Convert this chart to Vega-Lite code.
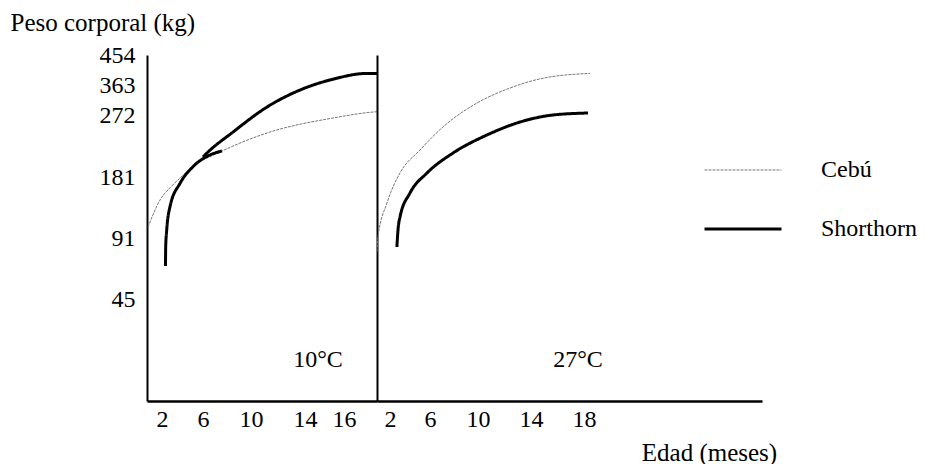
{
  "$schema": "https://vega.github.io/schema/vega-lite/v6.json",
  "padding": {"left": 10, "top": 10, "right": 0, "bottom": 0},
  "background": "white",
  "config": {
    "font": "Liberation Serif",
    "view": {"stroke": null},
    "axis": {"domainColor": "black", "domainWidth": 2, "ticks": false, "grid": false, "labelOverlap": false, "labelFlush": false, "labelFont": "Liberation Serif", "labelFontSize": 24, "labelColor": "black", "titleFont": "Liberation Serif", "titleFontSize": 25, "titleFontWeight": "normal", "titleColor": "black"},
    "legend": {"orient": "none", "legendX": 556, "legendY": 76, "symbolType": "stroke", "symbolSize": 5929, "labelFont": "Liberation Serif", "labelFontSize": 24, "labelColor": "black", "labelOffset": 38, "padding": 0, "rowPadding": 7, "title": null},
    "text": {"font": "Liberation Serif"}
  },
  "bounds": "flush",
  "spacing": 0,
  "resolve": {"scale": {"color": "shared", "strokeWidth": "shared", "strokeDash": "shared", "x": "independent", "y": "independent"}, "legend": {"color": "shared", "strokeWidth": "shared", "strokeDash": "shared"}},
  "datasets": {
    "curves": [
      {"panel": "10", "raza": "Cebú", "seg": "c10", "edad": 0.6, "peso": 107},
      {"panel": "10", "raza": "Cebú", "seg": "c10", "edad": 1.8, "peso": 147},
      {"panel": "10", "raza": "Cebú", "seg": "c10", "edad": 2.78, "peso": 165},
      {"panel": "10", "raza": "Cebú", "seg": "c10", "edad": 3.76, "peso": 179.5},
      {"panel": "10", "raza": "Cebú", "seg": "c10", "edad": 5.22, "peso": 198.6},
      {"panel": "10", "raza": "Cebú", "seg": "c10", "edad": 7.42, "peso": 217.7},
      {"panel": "10", "raza": "Cebú", "seg": "c10", "edad": 11.19, "peso": 245.6},
      {"panel": "10", "raza": "Cebú", "seg": "c10", "edad": 15.44, "peso": 267.6},
      {"panel": "10", "raza": "Cebú", "seg": "c10", "edad": 17.49, "peso": 281},
      {"panel": "10", "raza": "Cebú", "seg": "c10", "edad": 17.7, "peso": 282},
      {"panel": "10", "raza": "Shorthorn", "seg": "sA", "edad": 2.34, "peso": 69.9},
      {"panel": "10", "raza": "Shorthorn", "seg": "sA", "edad": 2.36, "peso": 84.4},
      {"panel": "10", "raza": "Shorthorn", "seg": "sA", "edad": 2.46, "peso": 102.8},
      {"panel": "10", "raza": "Shorthorn", "seg": "sA", "edad": 2.78, "peso": 137.2},
      {"panel": "10", "raza": "Shorthorn", "seg": "sA", "edad": 3.76, "peso": 171.7},
      {"panel": "10", "raza": "Shorthorn", "seg": "sA", "edad": 5.02, "peso": 196.1},
      {"panel": "10", "raza": "Shorthorn", "seg": "sA", "edad": 6.58, "peso": 213.3},
      {"panel": "10", "raza": "Shorthorn", "seg": "sA", "edad": 7.58, "peso": 219.2},
      {"panel": "10", "raza": "Shorthorn", "seg": "sB", "edad": 6.0, "peso": 210.4},
      {"panel": "10", "raza": "Shorthorn", "seg": "sB", "edad": 6.33, "peso": 216.2},
      {"panel": "10", "raza": "Shorthorn", "seg": "sB", "edad": 8.5, "peso": 247},
      {"panel": "10", "raza": "Shorthorn", "seg": "sB", "edad": 11.19, "peso": 296.3},
      {"panel": "10", "raza": "Shorthorn", "seg": "sB", "edad": 13.63, "peso": 347.8},
      {"panel": "10", "raza": "Shorthorn", "seg": "sB", "edad": 15.44, "peso": 380.6},
      {"panel": "10", "raza": "Shorthorn", "seg": "sB", "edad": 17.18, "peso": 398.2},
      {"panel": "10", "raza": "Shorthorn", "seg": "sB", "edad": 17.7, "peso": 398.2},
      {"panel": "27", "raza": "Cebú", "seg": "c27", "edad": 0.0, "peso": 80.7},
      {"panel": "27", "raza": "Cebú", "seg": "c27", "edad": 0.15, "peso": 92.5},
      {"panel": "27", "raza": "Cebú", "seg": "c27", "edad": 1.54, "peso": 142.7},
      {"panel": "27", "raza": "Cebú", "seg": "c27", "edad": 3.0, "peso": 186.9},
      {"panel": "27", "raza": "Cebú", "seg": "c27", "edad": 5.0, "peso": 220.6},
      {"panel": "27", "raza": "Cebú", "seg": "c27", "edad": 7.08, "peso": 254.4},
      {"panel": "27", "raza": "Cebú", "seg": "c27", "edad": 9.92, "peso": 308.4},
      {"panel": "27", "raza": "Cebú", "seg": "c27", "edad": 12.42, "peso": 353.9},
      {"panel": "27", "raza": "Cebú", "seg": "c27", "edad": 14.9, "peso": 383.5},
      {"panel": "27", "raza": "Cebú", "seg": "c27", "edad": 18.45, "peso": 398.2},
      {"panel": "27", "raza": "Shorthorn", "seg": "s27", "edad": 2.69, "peso": 84.2},
      {"panel": "27", "raza": "Shorthorn", "seg": "s27", "edad": 2.8, "peso": 102.8},
      {"panel": "27", "raza": "Shorthorn", "seg": "s27", "edad": 3.0, "peso": 122},
      {"panel": "27", "raza": "Shorthorn", "seg": "s27", "edad": 4.0, "peso": 157.4},
      {"panel": "27", "raza": "Shorthorn", "seg": "s27", "edad": 5.7, "peso": 186.9},
      {"panel": "27", "raza": "Shorthorn", "seg": "s27", "edad": 7.92, "peso": 216.2},
      {"panel": "27", "raza": "Shorthorn", "seg": "s27", "edad": 10.68, "peso": 242.7},
      {"panel": "27", "raza": "Shorthorn", "seg": "s27", "edad": 13.17, "peso": 261.7},
      {"panel": "27", "raza": "Shorthorn", "seg": "s27", "edad": 15.66, "peso": 272},
      {"panel": "27", "raza": "Shorthorn", "seg": "s27", "edad": 18.3, "peso": 278}
    ],
    "labels": [
      {"panel": "10", "edad": 14.67, "peso": 18, "texto": "10°C"},
      {"panel": "27", "edad": 17.55, "peso": 18, "texto": "27°C"}
    ]
  },
  "hconcat": [
    {
      "width": 230,
      "height": 346,
      "layer": [
        {
          "data": {"name": "curves"},
          "transform": [{"filter": "datum.panel == '10'"}],
          "mark": {"type": "line", "interpolate": "monotone"},
          "encoding": {
            "x": {"field": "edad", "type": "quantitative", "scale": {"domain": [0.5, 2, 6, 10, 14, 16, 17.7], "range": [0, 15, 56, 104, 158, 197, 230], "nice": false, "zero": false}, "axis": {"values": [2, 6, 10, 14, 16], "title": null, "labelPadding": 6, "domainWidth": 2.5}},
            "y": {"field": "peso", "type": "quantitative", "scale": {"domain": [0, 45, 91, 181, 272, 363, 454], "range": [346, 244, 183, 122, 60, 30, 0], "nice": false}, "axis": {"values": [45, 91, 181, 272, 363, 454], "labelPadding": 12, "title": "Peso corporal (kg)", "titleAngle": 0, "titleAlign": "left", "titleBaseline": "middle", "titleX": -137, "titleY": -33}},
            "detail": {"field": "seg"},
            "color": {"field": "raza", "type": "nominal", "scale": {"domain": ["Cebú", "Shorthorn"], "range": ["#777777", "#000000"]}},
            "strokeWidth": {"field": "raza", "type": "nominal", "scale": {"domain": ["Cebú", "Shorthorn"], "range": [1, 3]}},
            "strokeDash": {"field": "raza", "type": "nominal", "scale": {"domain": ["Cebú", "Shorthorn"], "range": [[3, 1], [1, 0]]}}
          }
        },
        {
          "data": {"name": "labels"},
          "transform": [{"filter": "datum.panel == '10'"}],
          "mark": {"type": "text", "fontSize": 24, "color": "black", "align": "center", "baseline": "middle"},
          "encoding": {
            "x": {"field": "edad", "type": "quantitative"},
            "y": {"field": "peso", "type": "quantitative"},
            "text": {"field": "texto"}
          }
        }
      ]
    },
    {
      "width": 385,
      "height": 346,
      "layer": [
        {
          "data": {"name": "curves"},
          "transform": [{"filter": "datum.panel == '27'"}],
          "mark": {"type": "line", "interpolate": "monotone"},
          "encoding": {
            "x": {"field": "edad", "type": "quantitative", "scale": {"domain": [0, 2, 6, 10, 14, 18, 31.4], "range": [0, 13, 53, 101, 154, 207, 385], "nice": false}, "axis": {"values": [2, 6, 10, 14, 18], "title": "Edad (meses)", "titleAlign": "center", "titleBaseline": "middle", "titleX": 332, "titleY": 51, "labelPadding": 6, "domainWidth": 2.5}},
            "y": {"field": "peso", "type": "quantitative", "scale": {"domain": [0, 45, 91, 181, 272, 363, 454], "range": [346, 244, 183, 122, 60, 30, 0], "nice": false}, "axis": {"labels": false, "title": null, "domainWidth": 2}},
            "detail": {"field": "seg"},
            "color": {"field": "raza", "type": "nominal", "scale": {"domain": ["Cebú", "Shorthorn"], "range": ["#777777", "#000000"]}},
            "strokeWidth": {"field": "raza", "type": "nominal", "scale": {"domain": ["Cebú", "Shorthorn"], "range": [1, 3]}},
            "strokeDash": {"field": "raza", "type": "nominal", "scale": {"domain": ["Cebú", "Shorthorn"], "range": [[3, 1], [1, 0]]}}
          }
        },
        {
          "data": {"name": "labels"},
          "transform": [{"filter": "datum.panel == '27'"}],
          "mark": {"type": "text", "fontSize": 24, "color": "black", "align": "center", "baseline": "middle"},
          "encoding": {
            "x": {"field": "edad", "type": "quantitative"},
            "y": {"field": "peso", "type": "quantitative"},
            "text": {"field": "texto"}
          }
        }
      ]
    }
  ]
}
